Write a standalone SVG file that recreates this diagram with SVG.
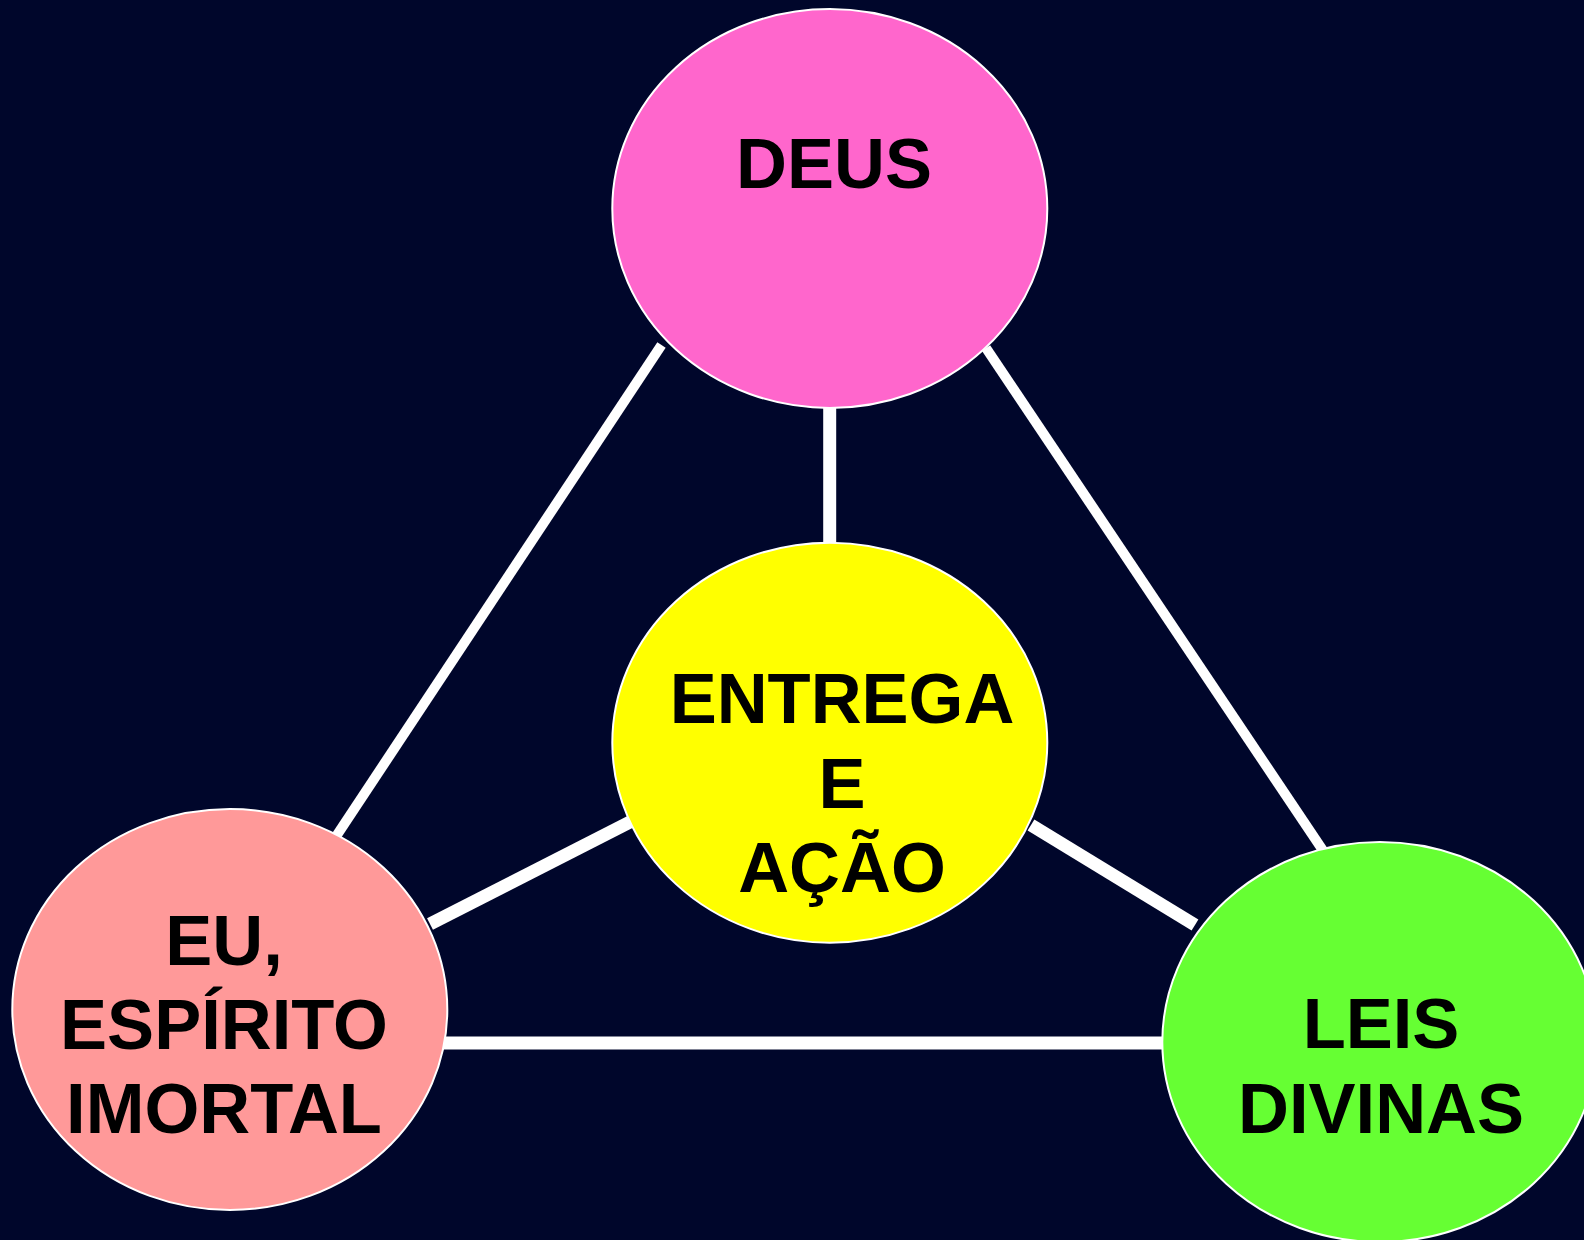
<svg xmlns="http://www.w3.org/2000/svg" width="1584" height="1240" viewBox="0 0 1584 1240">
<style>
.bg{fill:#00062B}
.node{stroke:#FFFFFF;stroke-width:2}
.edge{stroke:#FFFFFF;fill:none;stroke-linecap:butt}
.thin{stroke-width:10}
.thick{stroke-width:13}
.lbl{font-family:"Liberation Sans",Arial,sans-serif;font-weight:bold;font-size:70.5px;fill:#000000;text-anchor:middle}
</style>
<rect class="bg" x="0" y="0" width="1584" height="1240"/>
<g id="connectors">
<line class="edge thin" x1="661.5" y1="345" x2="335" y2="838"/>
<line class="edge thin" x1="986" y1="348" x2="1324" y2="852"/>
<line class="edge thick" x1="829.7" y1="405" x2="829.7" y2="545"/>
<line class="edge thick" x1="440" y1="1043" x2="1170" y2="1043"/>
<line class="edge thick" x1="630" y1="822" x2="430" y2="924"/>
<line class="edge thick" x1="1031" y1="825" x2="1195" y2="925"/>
</g>
<g id="deus">
<ellipse class="node" cx="829.8" cy="208.5" rx="217.5" ry="199.5" fill="#FF66CC"/>
<text class="lbl" x="834" y="188">DEUS</text>
</g>
<g id="entrega">
<ellipse class="node" cx="829.8" cy="742.7" rx="217.5" ry="200" fill="#FFFF00"/>
<text class="lbl" x="842" y="723">ENTREGA</text>
<text class="lbl" x="842" y="807.5">E</text>
<text class="lbl" x="842" y="891.5">AÇÃO</text>
</g>
<g id="eu">
<ellipse class="node" cx="229.8" cy="1009.5" rx="217.5" ry="200.5" fill="#FF9999"/>
<text class="lbl" x="224" y="965">EU,</text>
<text class="lbl" x="224" y="1048.5">ESPÍRITO</text>
<text class="lbl" x="224" y="1133">IMORTAL</text>
</g>
<g id="leis">
<ellipse class="node" cx="1379.8" cy="1042" rx="217.5" ry="200" fill="#66FF33"/>
<text class="lbl" x="1381" y="1048">LEIS</text>
<text class="lbl" x="1381" y="1132.5">DIVINAS</text>
</g>
</svg>
